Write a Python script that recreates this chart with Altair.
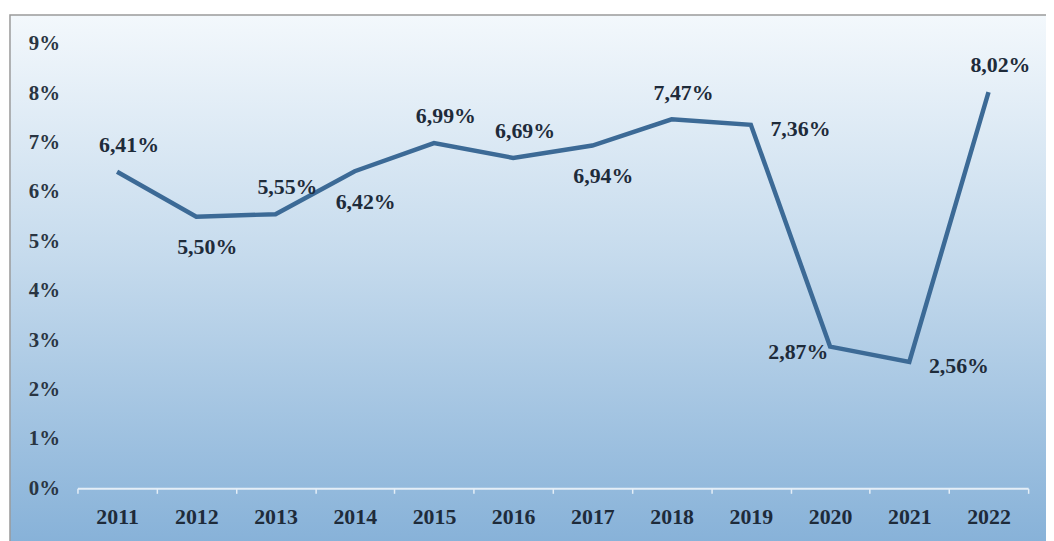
import altair as alt
import pandas as pd

years = ["2011", "2012", "2013", "2014", "2015", "2016", "2017", "2018", "2019", "2020", "2021", "2022"]
values = [6.41, 5.50, 5.55, 6.42, 6.99, 6.69, 6.94, 7.47, 7.36, 2.87, 2.56, 8.02]
placement = ["above", "below", "above", "below", "above", "above", "below", "above", "right", "left", "right", "above"]

df = pd.DataFrame({"year": years, "value": values, "place": placement})
df["label"] = [f"{v:.2f}".replace(".", ",") + "%" for v in values]

W, H = 958, 448
FONT = "Liberation Serif"

xenc = alt.X("year:N", sort=years, title=None,
             scale=alt.Scale(type="band", paddingInner=0, paddingOuter=0),
             axis=alt.Axis(labelAngle=0, labelFont=FONT, labelFontSize=22, labelFontWeight="bold",
                           labelColor="#1e2b3a", labelPadding=13, domainColor="#e4eef7",
                           domainWidth=2, tickColor="#e4eef7", tickBand="extent", tickSize=5,
                           tickWidth=1.5, grid=False, zindex=1))
yenc = alt.Y("value:Q", title=None,
             scale=alt.Scale(domain=[0, 9], nice=False),
             axis=alt.Axis(values=list(range(10)), labelExpr="datum.value + '%'", labelFont=FONT,
                           labelFontSize=21, labelFontWeight="bold", labelColor="#2a3542",
                           labelPadding=18, ticks=False, domain=False, grid=False, zindex=1))

bg = alt.Chart(pd.DataFrame({"a": [0]})).mark_rect(
    fill=alt.Gradient(gradient="linear", x1=0, x2=0, y1=0, y2=1,
                      stops=[alt.GradientStop(offset=0, color="#f3f8fc"),
                             alt.GradientStop(offset=0.45, color="#c6dbed"),
                             alt.GradientStop(offset=1, color="#86b1d8")]),
    stroke="#9a9a9a", strokeWidth=1.5
).encode(x=alt.value(-68), x2=alt.value(W + 30), y=alt.value(-29), y2=alt.value(H + 60))

base = alt.Chart(df)
line = base.mark_line(color="#3c6a96", strokeWidth=4.5).encode(x=xenc, y=yenc)

offsets = {"above": (12, -27), "below": (11, 31), "right": (50, 4), "left": (-32, 6)}
texts = []
for p, (dx, dy) in offsets.items():
    texts.append(base.transform_filter(alt.datum.place == p).mark_text(
        font=FONT, fontSize=22, fontWeight="bold", color="#1e2b3a", dx=dx, dy=dy
    ).encode(x=alt.X("year:N", sort=years), y=alt.Y("value:Q"), text="label:N"))

chart = alt.layer(bg, line, *texts).properties(
    width=W, height=H,
    autosize=alt.AutoSizeParams(type="none"),
    padding={"left": 70, "top": 34, "right": 18, "bottom": 51},
).configure_view(stroke=None).configure(background="white")

chart.save("out.html", embed_options={"renderer": "svg", "actions": False})
